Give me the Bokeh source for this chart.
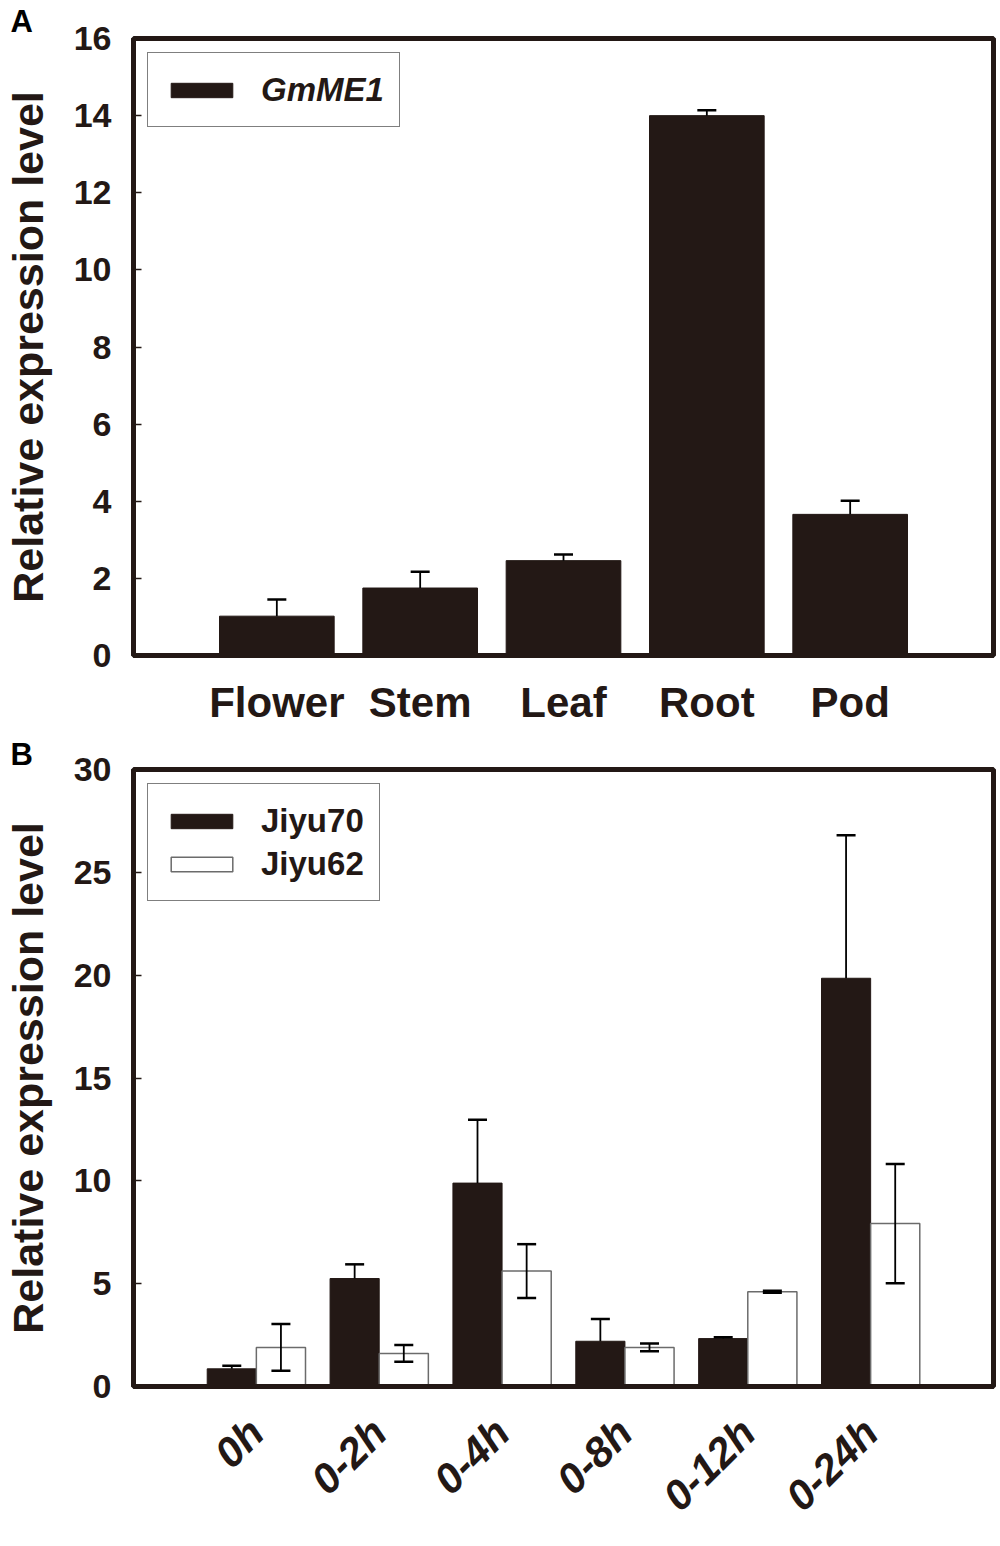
import math
from bokeh.plotting import figure
from bokeh.layouts import column
from bokeh.models import (ColumnDataSource, Range1d, FactorRange, SingleIntervalTicker,
                          Whisker, TeeHead, Legend, LegendItem, Title)
from bokeh.transform import dodge
from bokeh.embed import file_html
from bokeh.resources import INLINE

# ---- Panel A data ----
tissues = ["Flower", "Stem", "Leaf", "Root", "Pod"]
gmme1 = [1.02, 1.75, 2.46, 14.0, 3.66]
gmme1_err = [0.43, 0.42, 0.16, 0.14, 0.35]

# ---- Panel B data ----
times = ["0h", "0-2h", "0-4h", "0-8h", "0-12h", "0-24h"]
jiyu70 = [0.86, 5.25, 9.89, 2.20, 2.33, 19.85]
jiyu70_err = [0.15, 0.69, 3.08, 1.08, 0.06, 6.95]
jiyu62 = [1.90, 1.61, 5.61, 1.90, 4.61, 7.92]
jiyu62_err = [1.14, 0.41, 1.31, 0.19, 0.05, 2.90]

DARK = "#231815"
FONT = "Liberation Sans"


def style(p, tick_interval):
    p.xgrid.visible = False
    p.ygrid.visible = False
    p.outline_line_color = DARK
    p.outline_line_width = 5
    p.outline_line_alpha = 1.0
    p.background_fill_color = "white"
    p.border_fill_color = "white"
    yax = p.yaxis[0]
    yax.ticker = SingleIntervalTicker(interval=tick_interval)
    yax.axis_line_color = DARK
    yax.axis_line_width = 5
    yax.major_tick_in = 8
    yax.major_tick_out = 0
    yax.major_tick_line_width = 1.5
    yax.major_tick_line_color = DARK
    yax.minor_tick_line_color = None
    yax.major_label_text_font = FONT
    yax.major_label_text_font_style = "bold"
    yax.major_label_text_font_size = "34px"
    yax.major_label_text_color = DARK
    yax.major_label_standoff = 18
    yax.axis_label = "Relative expression level"
    yax.axis_label_text_font = FONT
    yax.axis_label_text_font_style = "bold"
    yax.axis_label_text_font_size = "43px"
    yax.axis_label_text_color = DARK
    yax.axis_label_standoff = 19
    xax = p.xaxis[0]
    xax.axis_line_color = DARK
    xax.axis_line_width = 5
    xax.major_tick_line_color = None
    xax.minor_tick_line_color = None
    xax.major_label_text_font = FONT
    xax.major_label_text_color = DARK


def panel_title(letter, standoff):
    return Title(text=letter, align="left", offset=-123, standoff=standoff,
                 text_font=FONT, text_font_style="bold", text_font_size="31px",
                 text_color="black", vertical_align="bottom")


# ---------------- Panel A ----------------
srcA = ColumnDataSource(dict(
    tissue=tissues, val=gmme1,
    up=[v + e for v, e in zip(gmme1, gmme1_err)]))

pA = figure(width=1000, height=736, output_backend="svg", toolbar_location=None,
            x_range=FactorRange(*tissues, range_padding=0.2), y_range=Range1d(0, 16))
pA.min_border_left = 133
pA.min_border_right = 7
pA.min_border_top = 38
pA.min_border_bottom = 81
style(pA, 2)
pA.xaxis[0].major_label_text_font_size = "42px"
pA.xaxis[0].major_label_text_font_style = "bold"
pA.xaxis[0].major_label_standoff = 17
pA.add_layout(panel_title("A", 0), "above")

rA = pA.vbar(x="tissue", top="val", width=0.8, source=srcA,
             fill_color=DARK, line_color=DARK, line_width=1)
pA.add_layout(Whisker(base="tissue", upper="up", lower="val", source=srcA, level="annotation",
                      line_color="black", line_width=1.8,
                      upper_head=TeeHead(size=19, line_width=2.5, line_color="black"),
                      lower_head=None))

legA = Legend(items=[LegendItem(label="GmME1", renderers=[rA])],
              location="top_left", margin=14, padding=15, spacing=0,
              glyph_width=77, glyph_height=18, label_height=43, label_standoff=21,
              label_text_font=FONT, label_text_font_style="bold italic",
              label_text_font_size="33px", label_text_color=DARK,
              border_line_color="black", border_line_width=1.5,
              background_fill_alpha=1.0)
pA.add_layout(legA, "center")

# ---------------- Panel B ----------------
srcB = ColumnDataSource(dict(
    time=times, a=jiyu70, b=jiyu62,
    a_up=[v + e for v, e in zip(jiyu70, jiyu70_err)],
    b_up=[v + e for v, e in zip(jiyu62, jiyu62_err)],
    b_lo=[v - e for v, e in zip(jiyu62, jiyu62_err)]))

pB = figure(width=1000, height=810, output_backend="svg", toolbar_location=None,
            x_range=FactorRange(*times, range_padding=1 / 6), y_range=Range1d(0, 30))
pB.min_border_left = 133
pB.min_border_right = 7
pB.min_border_top = 32
pB.min_border_bottom = 160
style(pB, 5)
pB.xaxis[0].major_label_text_font_size = "42px"
pB.xaxis[0].major_label_text_font_style = "bold italic"
pB.xaxis[0].major_label_orientation = math.pi / 4
pB.xaxis[0].major_label_standoff = 33
pB.add_layout(panel_title("B", -4), "above")

r70 = pB.vbar(x=dodge("time", -0.2, range=pB.x_range), top="a", width=0.4, source=srcB,
              fill_color=DARK, line_color=DARK, line_width=1)
r62 = pB.vbar(x=dodge("time", 0.2, range=pB.x_range), top="b", width=0.4, source=srcB,
              fill_color="white", line_color="#6b6b6b", line_width=1.5)
pB.add_layout(Whisker(base=dodge("time", -0.2, range=pB.x_range), upper="a_up", lower="a",
                      source=srcB, level="annotation", line_color="black", line_width=1.8,
                      upper_head=TeeHead(size=19, line_width=2.5, line_color="black"),
                      lower_head=None))
pB.add_layout(Whisker(base=dodge("time", 0.2, range=pB.x_range), upper="b_up", lower="b_lo",
                      source=srcB, level="annotation", line_color="black", line_width=1.8,
                      upper_head=TeeHead(size=19, line_width=2.5, line_color="black"),
                      lower_head=TeeHead(size=19, line_width=2.5, line_color="black")))

legB = Legend(items=[LegendItem(label="Jiyu70", renderers=[r70]),
                     LegendItem(label="Jiyu62", renderers=[r62])],
              location="top_left", margin=14, padding=15, spacing=0,
              glyph_width=77, glyph_height=18, label_height=43, label_standoff=21,
              label_text_font=FONT, label_text_font_style="bold",
              label_text_font_size="33px", label_text_color=DARK,
              border_line_color="black", border_line_width=1.5,
              background_fill_alpha=1.0)
pB.add_layout(legB, "center")

layout = column(pA, pB, spacing=0)
open("out.html", "w").write(file_html(layout, INLINE))
